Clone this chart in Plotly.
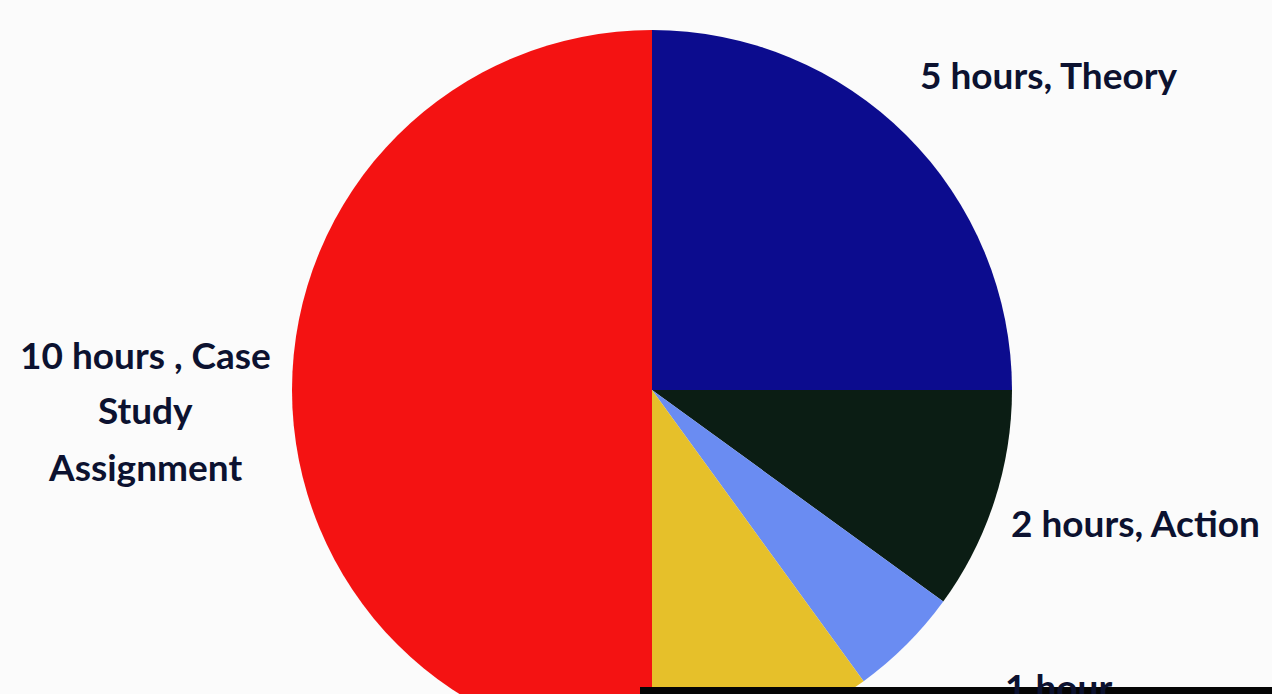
import plotly.graph_objects as go

# Data
labels = ["Theory", "Action", "1 hour", "2 hours", "Case Study Assignment"]
hours = [5, 2, 1, 2, 10]
colors = ["#0c0c8e", "#0b1d14", "#6a8cf2", "#e6c02a", "#f41212"]
label_lines = [
    ["5 hours, Theory"],
    ["2 hours, Action"],
    ["1 hour"],
    ["10 hours , Case", "Study", "Assignment"],
]

W, H = 1272, 800
cx, cy, r = 652, 390, 360


def px_x(x):
    return x / W


def px_y(y):
    return 1 - y / H


fig = go.Figure(go.Pie(
    labels=labels,
    values=hours,
    sort=False,
    direction="clockwise",
    rotation=0,
    marker=dict(colors=colors, line=dict(width=0)),
    textinfo="none",
    hoverinfo="label+value",
    showlegend=False,
    domain=dict(x=[px_x(cx - r), px_x(cx + r)], y=[px_y(cy + r), px_y(cy - r)]),
))

font = dict(family="Lato, 'Open Sans', sans-serif", size=37, color="#0c1230")
ann_pos = [(1049, 74), (1135, 522), (1058, 686), (145, 354)]
line_gap = 56
for lines, (x, y) in zip(label_lines, ann_pos):
    for i, t in enumerate(lines):
        fig.add_annotation(text="<b>%s</b>" % t, x=px_x(x), y=px_y(y + i * line_gap),
                           xref="paper", yref="paper",
                           showarrow=False, font=font, align="center",
                           xanchor="center", yanchor="middle")

# screen bezel at the bottom edge
fig.add_shape(type="rect", xref="paper", yref="paper", x0=px_x(640), x1=1, y0=0, y1=px_y(687),
              fillcolor="#050505", line=dict(width=0), layer="above")

fig.update_layout(
    width=W, height=H,
    margin=dict(l=0, r=0, t=0, b=0),
    paper_bgcolor="#fbfbfb",
    plot_bgcolor="#fbfbfb",
)

fig.write_html("out.html", config={"displayModeBar": False},
               post_script="document.body.style.margin='0';document.body.style.overflow='hidden';")
